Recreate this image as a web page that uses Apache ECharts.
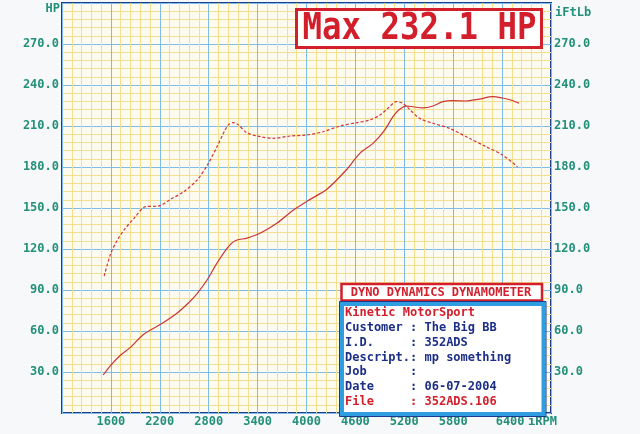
<!DOCTYPE html>
<html>
<head>
<meta charset="utf-8">
<script src="https://cdn.jsdelivr.net/npm/echarts@6/dist/echarts.min.js"></script>
<style>
html,body{margin:0;padding:0;background:#f6f8f9;}
#c{width:640px;height:434px;}
</style>
</head>
<body>
<div id="c"></div>
<script>
// ---- data ----
const hpRpm = [1505,1600,1720,1840,2000,2200,2410,2560,2660,2780,2900,3025,3125,3270,3430,3640,3840,4050,4246,4490,4654,4816,4959,5061,5143,5225,5306,5428,5551,5673,5795,5958,6120,6283,6405,6508,6609];
const hpValues = [27.8,35,42.4,48,57.5,64.5,73,81,87.6,97.3,109.5,120.5,126,128,131.5,139,148.5,156.5,163.5,178,190,197.3,207,216.8,222.2,224.6,224.1,223.2,224.6,227.8,228.5,228.3,229.7,231.5,230.5,229,226.6];
const tqRpm = [1517,1599,1680,1761,1884,2026,2189,2332,2495,2658,2780,2903,3000,3044,3100,3160,3269,3432,3594,3798,4002,4205,4409,4613,4776,4900,5000,5102,5183,5265,5387,5551,5754,5998,6202,6405,6588];
const tqValues = [100.2,116.9,126.6,133.9,142.5,151,151.5,156.4,162,170.5,181,195,207,211,212.5,211,205,202.2,201,202.7,203.4,205.8,210,212.4,214.4,218,223,227.8,226.6,222.2,215.6,212,208.3,201,194.9,188.8,180.2];
const xTicks = [1600,2200,2800,3400,4000,4600,5200,5800,6400];
const yTicks = [30,60,90,120,150,180,210,240,270];
const titleText = 'Max 232.1 HP';
const headerText = 'DYNO DYNAMICS DYNAMOMETER';
const infoLines = [
  ['Kinetic MotorSport', 'red'],
  ['Customer : The Big BB', 'navy'],
  ['I.D.     : 352ADS', 'navy'],
  ['Descript.: mp something', 'navy'],
  ['Job      :', 'navy'],
  ['Date     : 06-07-2004', 'navy'],
  ['File     : 352ADS.106', 'red']
];

// ---- styles ----
const MONO = "'DejaVu Sans Mono', 'Liberation Mono', monospace";
const TEAL = '#23907a';
const RED = '#d21f2b';
const NAVY = '#1c2f86';
const LINE = '#cc3535';

const chart = echarts.init(document.getElementById('c'), null, {renderer:'canvas'});

const yLabel = {
  color: TEAL, fontFamily: MONO, fontSize: 12, fontWeight: 'bold', margin: 3,
  formatter: v => yTicks.indexOf(v) >= 0 ? v.toFixed(1) : ''
};

const graphics = [
  {type:'text', x:60, y:9, style:{text:'HP', align:'right', verticalAlign:'middle', fill:TEAL, fontFamily:MONO, fontSize:12, fontWeight:'bold'}, z:10},
  {type:'text', x:555, y:13, style:{text:'iFtLb', align:'left', verticalAlign:'middle', fill:TEAL, fontFamily:MONO, fontSize:12, fontWeight:'bold'}, z:10},
  {type:'text', x:528, y:422, style:{text:'iRPM', align:'left', verticalAlign:'middle', fill:TEAL, fontFamily:MONO, fontSize:12, fontWeight:'bold'}, z:10},
  // title box
  {type:'rect', shape:{x:296.5, y:9.5, width:245, height:38}, style:{fill:'#ffffff', stroke:RED, lineWidth:3}, z:10},
  {type:'group', x:419.5, y:29, scaleX:0.875, z:11, children:[
    {type:'text', x:0, y:0, style:{text:titleText, align:'center', verticalAlign:'middle', fill:RED, fontFamily:MONO, fontSize:37, fontWeight:'bold'}, z:11}
  ]},
  // header box
  {type:'rect', shape:{x:341.5, y:284, width:200.5, height:16.5}, style:{fill:'#ffffff', stroke:RED, lineWidth:2.5}, z:10},
  {type:'text', x:441, y:292.5, style:{text:headerText, align:'center', verticalAlign:'middle', fill:RED, fontFamily:MONO, fontSize:12, fontWeight:'bold'}, z:11},
  // info box
  {type:'rect', shape:{x:342, y:304, width:201.5, height:110}, style:{fill:'#ffffff', stroke:'#2f9de0', lineWidth:4}, z:10},
  {type:'rect', shape:{x:339.5, y:301.5, width:206.5, height:115}, style:{fill:'none', stroke:'#1c3a8c', lineWidth:1}, z:10}
];
infoLines.forEach((l, i) => {
  graphics.push({type:'text', x:345, y:312.7 + i*14.9, style:{text:l[0], align:'left', verticalAlign:'middle', fill: l[1]==='red'?RED:NAVY, fontFamily:MONO, fontSize:12, fontWeight:'bold'}, z:11});
});

const option = {
  backgroundColor: '#f6f8f9',
  animation: false,
  grid: {left:62, right:89, top:3, bottom:21, show:true, borderColor:'#1f3d8c', borderWidth:2, backgroundColor:'#fdfbf0', containLabel:false},
  xAxis: {
    type:'value', min:1000, max:7000, interval:600,
    axisLine:{show:false}, axisTick:{show:false},
    splitLine:{show:true, lineStyle:{color:'#7dbbe8', width:1}},
    minorTick:{show:false, splitNumber:5},
    minorSplitLine:{show:true, lineStyle:{color:'#f4df90', width:1}},
    axisLabel:{
      color:TEAL, fontFamily:MONO, fontSize:12, fontWeight:'bold', margin:3,
      formatter: v => xTicks.indexOf(v) >= 0 ? (v === 6400 ? '{r|' + v + '}' : String(v)) : '',
      rich:{r:{color:TEAL, fontFamily:MONO, fontSize:12, fontWeight:'bold', padding:[0,0,0,16]}}
    }
  },
  yAxis: [
    {type:'value', position:'left', min:0, max:300, interval:30,
     axisLine:{show:false}, axisTick:{show:false},
     splitLine:{show:true, lineStyle:{color:'#7dbbe8', width:1}},
     minorTick:{show:false, splitNumber:5},
     minorSplitLine:{show:true, lineStyle:{color:'#f4df90', width:1}},
     axisLabel: yLabel},
    {type:'value', position:'right', min:0, max:300, interval:30,
     axisLine:{show:false}, axisTick:{show:false}, splitLine:{show:false},
     axisLabel: yLabel}
  ],
  series: [
    {name:'HP', type:'line', yAxisIndex:0, showSymbol:false, smooth:0.3,
     data: hpRpm.map((r,i)=>[r, hpValues[i]]),
     lineStyle:{color:LINE, width:1.2}, z:5},
    {name:'Torque', type:'line', yAxisIndex:1, showSymbol:false, smooth:0.3,
     data: tqRpm.map((r,i)=>[r, tqValues[i]]),
     lineStyle:{color:LINE, width:1.2, type:[3,2]}, z:5}
  ],
  graphic: graphics
};
chart.setOption(option);
</script>
</body>
</html>
